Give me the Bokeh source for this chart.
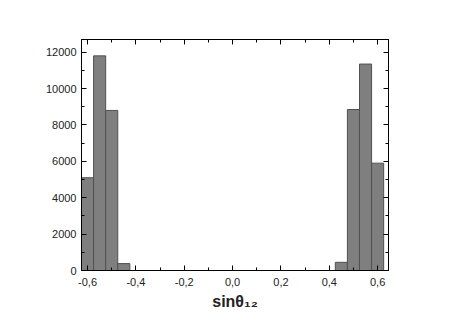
from bokeh.plotting import figure
from bokeh.models import FixedTicker, LinearAxis, CustomJSTickFormatter, Range1d
from bokeh.embed import file_html
from bokeh.resources import INLINE

bin_centers = [-0.60, -0.55, -0.50, -0.45, 0.45, 0.50, 0.55, 0.60]
counts = [5100, 11800, 8800, 380, 450, 8850, 11350, 5900]
bin_width = 0.05
x_ticks = [-0.6, -0.4, -0.2, 0.0, 0.2, 0.4, 0.6]
x_minor = [-0.5, -0.3, -0.1, 0.1, 0.3, 0.5]
y_ticks = [0, 2000, 4000, 6000, 8000, 10000, 12000]
y_minor = [1000, 3000, 5000, 7000, 9000, 11000]
x_label = "sinθ₁₂"

W, H = 436, 317
p = figure(width=W, height=H, output_backend="svg", toolbar_location=None,
           x_range=Range1d(-0.625, 0.645), y_range=Range1d(0, 12700),
           min_border_left=81, min_border_right=48, min_border_top=39, min_border_bottom=47)
p.grid.visible = False
p.outline_line_color = "black"
p.background_fill_color = "white"

p.vbar(x=bin_centers, top=counts, width=bin_width, bottom=0,
       fill_color="#7f7f7f", line_color="#505050", line_width=1)

fmt = CustomJSTickFormatter(code="return tick.toFixed(1).replace('.', ',');")

def style(ax, labels=True):
    ax.axis_line_color = "black"
    ax.major_tick_in = 5
    ax.major_tick_out = 0
    ax.minor_tick_in = 3
    ax.minor_tick_out = 0
    ax.major_tick_line_color = "black"
    ax.minor_tick_line_color = "black"
    ax.major_label_text_font = "Liberation Sans"
    ax.major_label_text_font_size = "11px"
    ax.major_label_text_color = "#222222"
    if not labels:
        ax.major_label_text_alpha = 0

xa = p.xaxis[0]
xa.ticker = FixedTicker(ticks=x_ticks, minor_ticks=x_minor)
xa.formatter = fmt
xa.major_label_standoff = 7
xa.axis_label = x_label
xa.axis_label_text_font = "Liberation Sans"
xa.axis_label_text_font_size = "16px"
xa.axis_label_text_font_style = "bold"
xa.axis_label_text_color = "#222222"
xa.axis_label_standoff = 4
style(xa)

ya = p.yaxis[0]
ya.ticker = FixedTicker(ticks=y_ticks, minor_ticks=y_minor)
ya.major_label_standoff = 5
style(ya)

top = LinearAxis(ticker=FixedTicker(ticks=x_ticks, minor_ticks=x_minor))
style(top, labels=False)
p.add_layout(top, "above")
right = LinearAxis(ticker=FixedTicker(ticks=y_ticks, minor_ticks=y_minor))
style(right, labels=False)
p.add_layout(right, "right")

open("out.html", "w").write(file_html(p, INLINE))
